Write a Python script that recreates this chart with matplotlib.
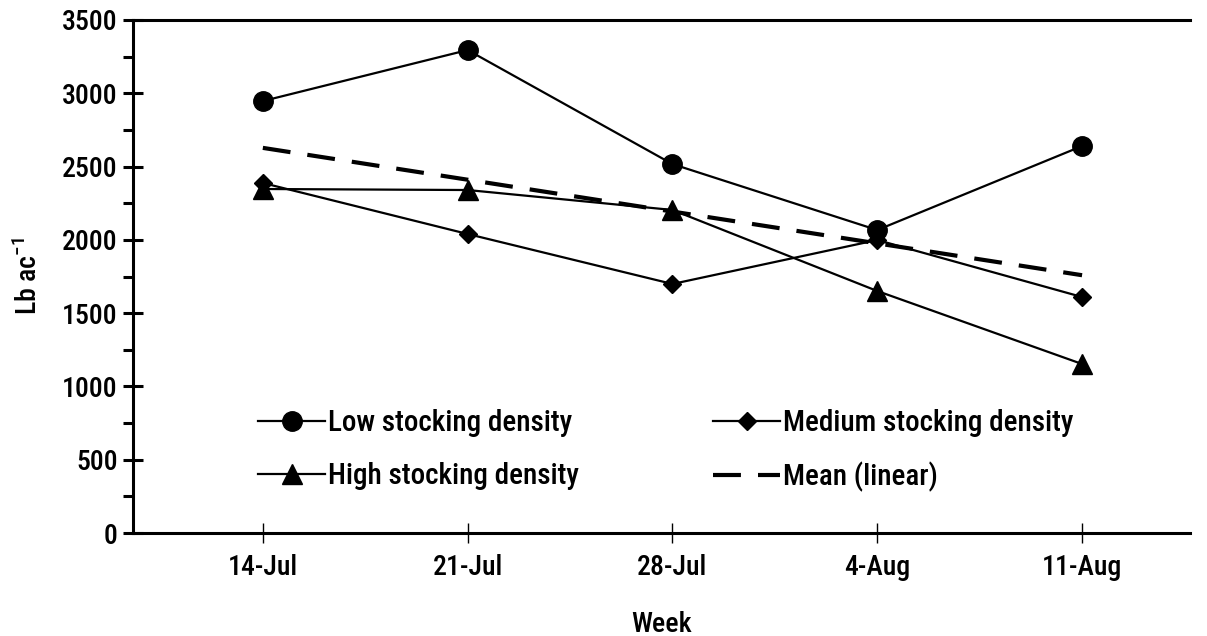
import matplotlib
matplotlib.use("Agg")
import matplotlib.pyplot as plt
import numpy as np

weeks = ["14-Jul", "21-Jul", "28-Jul", "4-Aug", "11-Aug"]
low = [2947, 3295, 2517, 2067, 2640]
medium = [2388, 2040, 1699, 1999, 1610]
high = [2347, 2340, 2204, 1651, 1153]

plt.rcParams['font.family'] = ['Roboto Condensed', 'DejaVu Sans']
plt.rcParams['font.size'] = 20
plt.rcParams['font.weight'] = 'medium'
plt.rcParams['axes.labelweight'] = 'medium'

fig = plt.figure(figsize=(12.07, 6.36), dpi=100)
ax = fig.add_axes([133/1207, 1-533/636, (1190-133)/1207, (533-20)/636])

x = np.arange(len(weeks))
mean = (np.array(low) + np.array(medium) + np.array(high)) / 3
coef = np.polyfit(x, mean, 1)
trend = np.polyval(coef, x)

l1, = ax.plot(x, low, color='black', lw=1.6, marker='o', ms=14, label='Low stocking density')
l2, = ax.plot(x, medium, color='black', lw=1.6, marker='D', ms=9, label='Medium stocking density')
l3, = ax.plot(x, high, color='black', lw=1.6, marker='^', ms=14, label='High stocking density')
l4, = ax.plot(x, trend, color='black', lw=3, ls=(0, (6.7, 4.1)), label='Mean (linear)')

ax.set_xlim(-0.634, 4.527)
ax.set_ylim(0, 3500)
ax.set_xticks(x)
ax.set_xticklabels(weeks)
ax.set_yticks(np.arange(0, 3501, 500))
ax.set_yticks(np.arange(250, 3500, 500), minor=True)

for s in ['left', 'bottom', 'top']:
    ax.spines[s].set_linewidth(2.2)
ax.spines['right'].set_visible(False)
ax.tick_params(axis='y', which='major', direction='inout', length=14, width=2.2, pad=4)
ax.tick_params(axis='y', which='minor', direction='out', length=7, width=2.2)
ax.tick_params(axis='x', which='major', direction='inout', length=14, width=1, pad=8)

ax.set_ylabel('Lb ac$^{\\mathregular{-1}}$', labelpad=14)
ax.set_xlabel('Week', labelpad=22)

leg = ax.legend(handles=[l1, l3, l2, l4], ncol=2, loc='lower left',
                bbox_to_anchor=(0.0934, 0.028), frameon=False, handlelength=2.3,
                handletextpad=0.1, columnspacing=4.6, labelspacing=0.85,
                prop={'size': 21, 'weight': 'medium'})

fig.savefig('out.png', dpi=100)
